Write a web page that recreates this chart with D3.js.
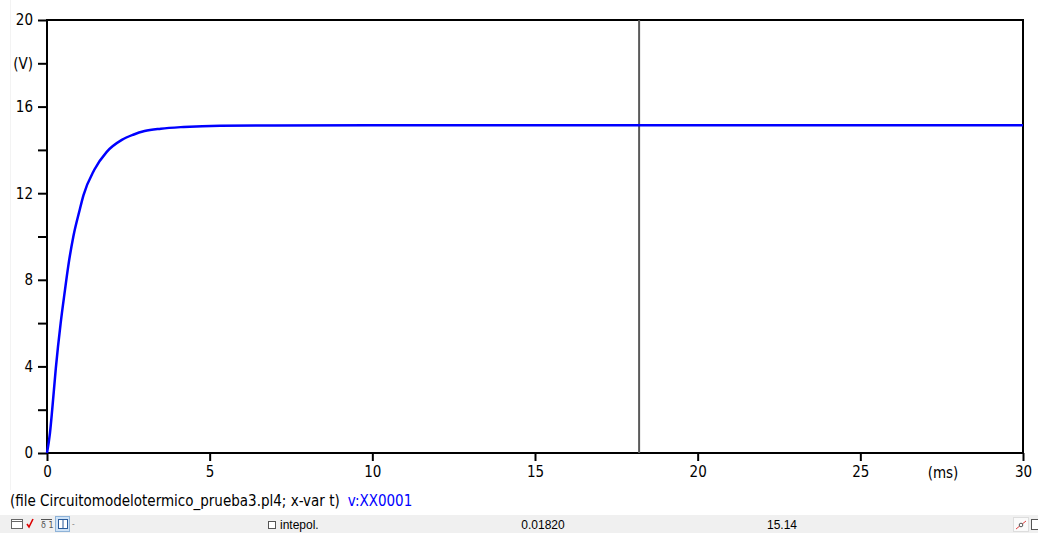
<!DOCTYPE html>
<html>
<head>
<meta charset="utf-8">
<script src="https://cdn.jsdelivr.net/npm/d3@7"></script>
<style>
  body { margin: 0; background: #fff; }
  svg { display: block; }
  .ax text { font-family: "DejaVu Sans Condensed", "DejaVu Sans", sans-serif; font-stretch: condensed; font-size: 15px; fill: #000; }
</style>
</head>
<body>
<div id="chart"></div>
<script>
// data: time in ms, voltage in V
var timeMs = [0, 0.09, 0.16, 0.27, 0.42, 0.55, 0.65, 0.81, 1.0, 1.12, 1.45, 1.83, 2.30, 2.65, 3.0, 3.5, 4.2, 5.32, 7, 10, 15, 20, 25, 30];
var voltage = [0, 0.91, 2.0, 3.9, 6.0, 7.5, 8.6, 10.0, 11.2, 11.9, 13.07, 13.9, 14.46, 14.7, 14.87, 14.98, 15.06, 15.12, 15.13, 15.14, 15.14, 15.14, 15.14, 15.14];
var xTicks = [0, 5, 10, 15, 20, 25, 30];
var yTicks = [0, 2, 4, 6, 8, 10, 12, 14, 16, 18, 20];
var yLabels = {0: "0", 4: "4", 8: "8", 12: "12", 16: "16", 18: "(V)", 20: "20"};
var cursorT = 18.2;
var caption = "(file Circuitomodelotermico_prueba3.pl4; x-var t)";
var seriesName = "v:XX0001";
var statusX = "0.01820";
var statusY = "15.14";

var W = 1038, H = 533;
var font = '"DejaVu Sans Condensed", "DejaVu Sans", sans-serif';
var svg = d3.select("#chart").append("svg").attr("width", W).attr("height", H);

var x = d3.scaleLinear().domain([0, 30]).range([47, 1023]);
var y = d3.scaleLinear().domain([0, 20]).range([453, 20]);

// faint window edge at left
svg.append("line").attr("x1", 10.5).attr("x2", 10.5).attr("y1", 0).attr("y2", 490)
    .attr("stroke", "#f3f3f3").attr("stroke-width", 1);

// frame
svg.append("rect")
    .attr("x", x(0)).attr("y", y(20))
    .attr("width", x(30) - x(0)).attr("height", y(0) - y(20))
    .attr("fill", "none").attr("stroke", "#000").attr("stroke-width", 2);

// axes
var yAxis = d3.axisLeft(y).tickValues(yTicks).tickSize(9).tickPadding(5)
    .tickFormat(d => yLabels[d] || "");
svg.append("g").attr("class", "ax").attr("transform", `translate(${x(0)},0)`).call(yAxis)
    .call(g => g.select(".domain").remove())
    .call(g => g.selectAll("line").attr("stroke", "#000").attr("stroke-width", 2));

var xAxis = d3.axisBottom(x).tickValues(xTicks).tickSize(8).tickPadding(5);
svg.append("g").attr("class", "ax").attr("transform", `translate(0,${y(0)})`).call(xAxis)
    .call(g => g.select(".domain").remove())
    .call(g => g.selectAll("line").attr("stroke", "#000").attr("stroke-width", 2));

svg.append("text").attr("x", 943).attr("y", 478).attr("text-anchor", "middle")
    .style("font-family", font).style("font-stretch", "condensed").style("font-size", "15px")
    .text("(ms)");

// cursor
svg.append("line").attr("x1", x(cursorT)).attr("x2", x(cursorT))
    .attr("y1", y(20)).attr("y2", y(0))
    .attr("stroke", "#5a5a5a").attr("stroke-width", 2);

// curve
var pts = timeMs.map((t, i) => [t, voltage[i]]);
var line = d3.line().x(d => x(d[0])).y(d => y(d[1])).curve(d3.curveMonotoneX);
svg.append("path").datum(pts).attr("d", line)
    .attr("fill", "none").attr("stroke", "#0000ff").attr("stroke-width", 2.5);

// caption
var cap = svg.append("text").attr("x", 10).attr("y", 506)
    .style("font-family", font).style("font-stretch", "condensed").style("font-size", "15px");
cap.append("tspan").attr("fill", "#000").text(caption);
cap.append("tspan").attr("fill", "#0000ff").attr("dx", 8).text(seriesName);

// status bar
svg.append("rect").attr("x", 0).attr("y", 515).attr("width", W).attr("height", 18).attr("fill", "#f0f0f0");
var sb = svg.append("g").style("font-family", '"Liberation Sans", Arial, sans-serif').style("font-size", "12px");
sb.append("rect").attr("x", 268.5).attr("y", 521.5).attr("width", 7).attr("height", 7)
    .attr("fill", "#fff").attr("stroke", "#555");
sb.append("text").attr("x", 280).attr("y", 529).text("intepol.");
sb.append("text").attr("x", 543).attr("y", 529).attr("text-anchor", "middle").text(statusX);
sb.append("text").attr("x", 782).attr("y", 529).attr("text-anchor", "middle").text(statusY);

// little toolbar icons
var ic = svg.append("g");
ic.append("rect").attr("x", 11.5).attr("y", 519.5).attr("width", 11).attr("height", 9).attr("fill", "#fff").attr("stroke", "#666");
ic.append("line").attr("x1", 11.5).attr("x2", 22.5).attr("y1", 521.5).attr("y2", 521.5).attr("stroke", "#666");
ic.append("path").attr("d", "M27,524 L29,527 L33,519").attr("fill", "none").attr("stroke", "#d00").attr("stroke-width", 1.6);
ic.append("text").attr("x", 41).attr("y", 528).style("font-size", "8px").style("font-family", "DejaVu Sans").attr("fill", "#555").text("δ 1");
ic.append("line").attr("x1", 41).attr("x2", 52).attr("y1", 519.5).attr("y2", 519.5).attr("stroke", "#555");
ic.append("rect").attr("x", 55.5).attr("y", 516.5).attr("width", 14).attr("height", 15).attr("fill", "#cfe3f7").attr("stroke", "#8fb3d8");
ic.append("rect").attr("x", 58.5).attr("y", 519.5).attr("width", 9).attr("height", 9).attr("fill", "#fff").attr("stroke", "#2a5b9a");
ic.append("line").attr("x1", 63).attr("x2", 63).attr("y1", 519.5).attr("y2", 528.5).attr("stroke", "#2a5b9a");
ic.append("text").attr("x", 72).attr("y", 527).style("font-size", "8px").attr("fill", "#777").text("-");
ic.append("rect").attr("x", 1013.5).attr("y", 517.5).attr("width", 15).attr("height", 14).attr("fill", "#fafafa").attr("stroke", "#ddd");
ic.append("path").attr("d", "M1016,529 L1026,521").attr("stroke", "#e04040").attr("stroke-width", 1);
ic.append("circle").attr("cx", 1021).attr("cy", 525).attr("r", 1.8).attr("fill", "#fff").attr("stroke", "#555");
ic.append("rect").attr("x", 1031.5).attr("y", 519.5).attr("width", 7).attr("height", 10).attr("fill", "#fff").attr("stroke", "#555");
</script>
</body>
</html>
